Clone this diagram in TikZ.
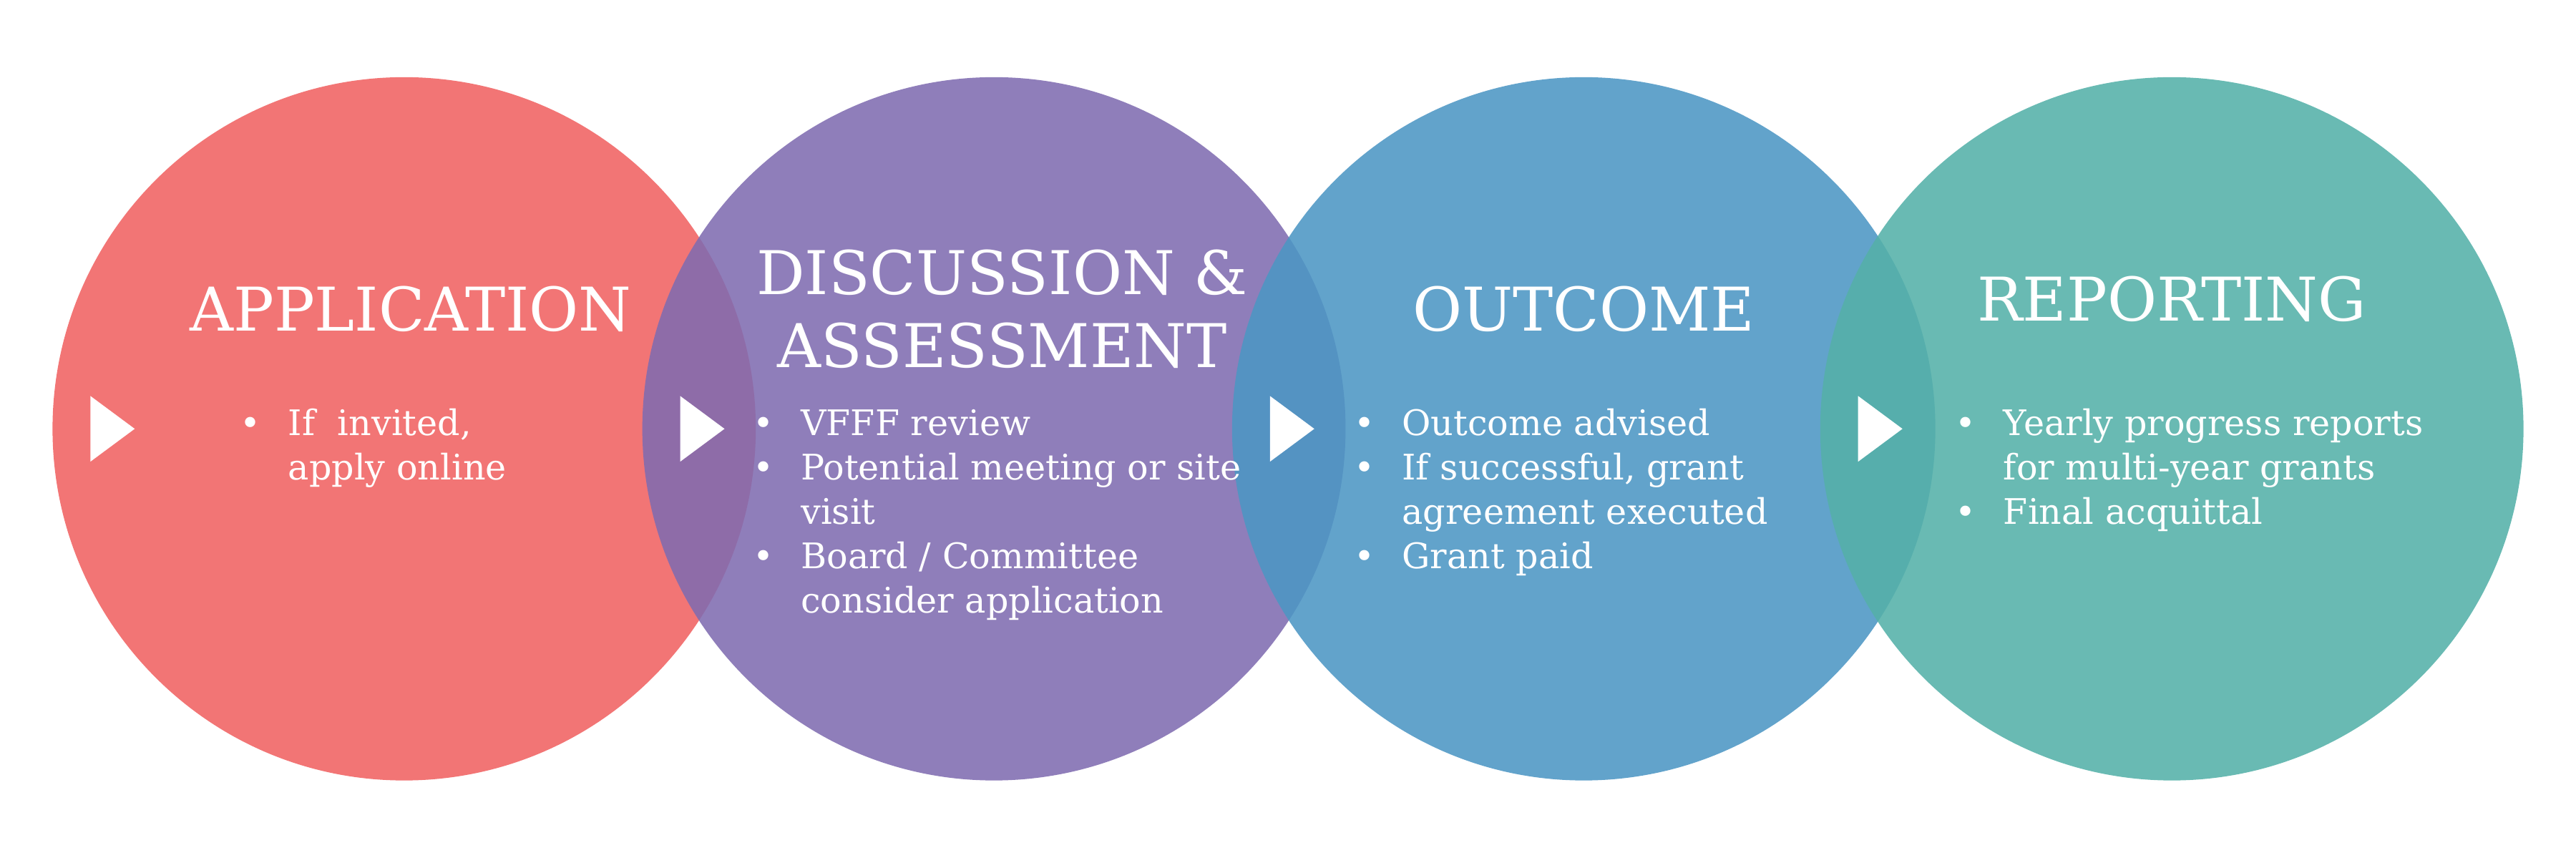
\documentclass[tikz,border=0pt]{standalone}
\usepackage{fontspec}
\setmainfont{DejaVu Serif}
\usepackage{array}
\usetikzlibrary{calc}
\newcommand{\bul}{\textbullet}
\newcommand{\stagelist}[2]{\begin{tabular}{@{}l@{\hspace{0.38cm}}>{\raggedright\arraybackslash}p{#1}@{}}#2\end{tabular}}
\begin{document}
\begin{tikzpicture}[x=0.02296cm, y=-0.02296cm,
                        stage/.style={circle, minimum size=9.83cm, inner sep=0pt, fill opacity=0.88, text opacity=1},
                        title/.style={white, font=\fontsize{24}{29}\selectfont, align=center},
                        info/.style={white, font=\fontsize{14}{17.6}\selectfont, anchor=north west, inner sep=0pt},
                        tri/.style={fill=white, draw=none},
					]
	\useasboundingbox (0,0) rectangle (1568,522);
	\node[stage, fill={rgb,255:red,240;green,98;blue,98}] (app) at (246,261) {};
	\node[stage, fill={rgb,255:red,128;green,108;blue,176}] (disc) at (605,261) {};
	\node[stage, fill={rgb,255:red,76;green,150;blue,196}] (out) at (964,261) {};
	\node[stage, fill={rgb,255:red,84;green,176;blue,168}] (rep) at (1322,261) {};
	% arrow heads on the left rims
	\foreach \c in {app, disc, out, rep} {
		\fill[tri] ($(\c.center)+(-191,-20)$) -- ++(27,20) -- ++(-27,20) -- cycle;
	}
	\node[title] (appt) at (250,188) {APPLICATION};
	\node[title] (disct) at (610,188) {DISCUSSION \&\\ASSESSMENT};
	\node[title] (outt) at (964,188) {OUTCOME};
	\node[title] (rept) at (1322,182) {REPORTING};
	\node[info] (appl) at (146,246) {\stagelist{3.6cm}{\bul & If\ \ invited, apply online}};
	\node[info] (discl) at (458,246) {\stagelist{6.3cm}{\bul & VFFF review\\ \bul & Potential meeting or site visit\\ \bul & Board / Committee consider application}};
	\node[info] (outl) at (824,246) {\stagelist{5.7cm}{\bul & Outcome advised\\ \bul & If successful, grant agreement executed\\ \bul & Grant paid}};
	\node[info] (repl) at (1190,246) {\stagelist{6.5cm}{\bul & Yearly progress reports for multi-year grants\\ \bul & Final acquittal}};
\end{tikzpicture}
\end{document}
